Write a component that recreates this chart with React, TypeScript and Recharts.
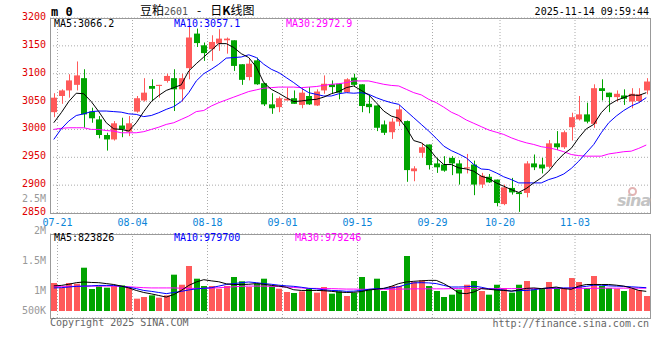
import React from 'react';
import { ComposedChart, Bar, Line, XAxis, YAxis, CartesianGrid, ReferenceLine } from 'recharts';

const dates = [
  '07-18', '07-21', '07-22', '07-23', '07-24', '07-25', '07-28', '07-29', '07-30', '07-31',
  '08-01', '08-04', '08-05', '08-06', '08-07', '08-08', '08-11', '08-12', '08-13', '08-14',
  '08-15', '08-18', '08-19', '08-20', '08-21', '08-22', '08-25', '08-26', '08-27', '08-28',
  '08-29', '09-01', '09-02', '09-03', '09-04', '09-05', '09-08', '09-09', '09-10', '09-11',
  '09-12', '09-15', '09-16', '09-17', '09-18', '09-19', '09-22', '09-23', '09-24', '09-25',
  '09-26', '09-29', '09-30', '10-09', '10-10', '10-13', '10-14', '10-15', '10-16', '10-17',
  '10-20', '10-21', '10-22', '10-23', '10-24', '10-27', '10-28', '10-29', '10-30', '10-31',
  '11-03', '11-04', '11-05', '11-06', '11-07', '11-10', '11-11', '11-12', '11-13', '11-14',
];

const opens = [
  3031, 3060, 3070, 3080, 3092, 3032, 3018, 2990, 2982, 3007,
  2996, 3032, 3052, 3078, 3078, 3087, 3092, 3072, 3110, 3172,
  3151, 3144, 3154, 3160, 3160, 3117, 3094, 3124, 3083, 3045,
  3040, 3052, 3056, 3044, 3060, 3043, 3070, 3081, 3082, 3067,
  3093, 3081, 3046, 3043, 3009, 2995, 3014, 3015, 2925, 2958,
  2973, 2939, 2937, 2949, 2939, 2930, 2937, 2901, 2915, 2910,
  2866, 2895, 2887, 2886, 2939, 2937, 2933, 2975, 2968, 3004,
  3018, 3027, 3010, 3074, 3066, 3058, 3061, 3050, 3051, 3070,
];
const highs = [
  3065, 3072, 3099, 3122, 3108, 3039, 3024, 2994, 3015, 3021,
  3024, 3060, 3092, 3090, 3080, 3100, 3108, 3100, 3184, 3181,
  3156, 3169, 3180, 3165, 3160, 3117, 3126, 3129, 3084, 3065,
  3059, 3075, 3070, 3074, 3076, 3072, 3097, 3088, 3082, 3092,
  3100, 3081, 3060, 3043, 3016, 3020, 3044, 3016, 2934, 2976,
  2973, 2949, 2952, 2952, 2945, 2956, 2944, 2922, 2920, 2910,
  2901, 2913, 2887, 2943, 2955, 2949, 2981, 2997, 2998, 3030,
  3060, 3048, 3081, 3090, 3066, 3070, 3072, 3074, 3074, 3092,
];
const lows = [
  3022, 3046, 3057, 3070, 3003, 3012, 2984, 2962, 2980, 2986,
  2988, 3030, 3050, 3052, 3057, 3084, 3033, 3050, 3090, 3148,
  3123, 3123, 3141, 3136, 3105, 3080, 3088, 3080, 3042, 3028,
  3031, 3052, 3046, 3038, 3044, 3042, 3064, 3064, 3054, 3066,
  3078, 3031, 3029, 2997, 2990, 2983, 3006, 2906, 2907, 2949,
  2928, 2922, 2924, 2918, 2901, 2921, 2882, 2895, 2904, 2862,
  2864, 2883, 2852, 2878, 2927, 2921, 2930, 2963, 2965, 2980,
  3016, 3011, 3003, 3052, 3031, 3050, 3044, 3038, 3048, 3063,
];
const closes = [
  3057, 3070, 3088, 3097, 3027, 3020, 2990, 2982, 3011, 3000,
  3011, 3056, 3066, 3073, 3080, 3096, 3072, 3092, 3165, 3155,
  3137, 3157, 3163, 3163, 3114, 3089, 3118, 3081, 3045, 3038,
  3056, 3055, 3046, 3066, 3045, 3068, 3082, 3076, 3066, 3090,
  3080, 3042, 3040, 3003, 2994, 3014, 3036, 2927, 2930, 2968,
  2936, 2932, 2926, 2939, 2921, 2932, 2901, 2917, 2905, 2868,
  2896, 2887, 2884, 2939, 2932, 2930, 2975, 2968, 2995, 3022,
  3027, 3014, 3074, 3069, 3058, 3064, 3055, 3064, 3063, 3086,
];

const ma5 = [
  3012, 3030, 3050, 3065, 3064, 3050, 3032, 3012, 3001, 3000,
  2997, 3012, 3032, 3050, 3061, 3070, 3075, 3080, 3105, 3118,
  3130, 3142, 3154, 3154, 3147, 3136, 3129, 3112, 3084, 3072,
  3065, 3057, 3050, 3051, 3053, 3054, 3058, 3064, 3068, 3075,
  3078, 3070, 3062, 3048, 3033, 3024, 3020, 3003, 2980, 2976,
  2966, 2949, 2937, 2937, 2931, 2929, 2925, 2916, 2912, 2904,
  2898, 2892, 2887, 2894, 2904, 2913, 2925, 2942, 2956, 2966,
  2985, 3001, 3009, 3030, 3044, 3052, 3057, 3062, 3061, 3066,
];
const ma10 = [
  2982, 3001, 3015, 3025, 3028, 3032, 3033, 3033, 3032, 3031,
  3028, 3027, 3023, 3025, 3030, 3036, 3041, 3050, 3066, 3087,
  3100, 3108, 3117, 3128, 3129, 3130, 3134, 3129, 3117, 3108,
  3102, 3093, 3084, 3074, 3066, 3063, 3060, 3060, 3064, 3066,
  3065, 3066, 3063, 3057, 3052, 3048, 3045, 3033, 3021, 3009,
  2997, 2984, 2970, 2962, 2956, 2949, 2937, 2929, 2928, 2922,
  2915, 2910, 2904, 2904, 2904, 2904, 2910, 2914, 2920, 2930,
  2943, 2958, 2973, 2994, 3012, 3024, 3034, 3042, 3048, 3057,
];
const ma30 = [
  3000, 3002, 3003, 3003, 3003, 3000, 3000, 2998, 2997, 2994,
  2994, 2994, 2996, 3000, 3004, 3009, 3012, 3018, 3024, 3032,
  3034, 3042, 3048, 3053, 3058, 3063, 3068, 3071, 3074, 3075,
  3076, 3076, 3076, 3075, 3076, 3077, 3079, 3081, 3082, 3084,
  3087, 3087, 3087, 3084, 3081, 3079, 3078, 3072, 3066, 3062,
  3054, 3048, 3040, 3031, 3025, 3017, 3011, 3005, 2999, 2995,
  2991, 2985, 2980, 2976, 2973, 2969, 2967, 2964, 2960, 2955,
  2953, 2952, 2952, 2952, 2956, 2958, 2960, 2961, 2966, 2972,
];

// volume, in thousands of lots
const volumes = [
  1225, 1020, 1225, 1195, 1895, 963, 1080, 1020, 1094, 1120,
  1020, 540, 613, 686, 584, 686, 1590, 1150, 1970, 1414,
  1094, 1094, 977, 1094, 1488, 1300, 1050, 1195, 1414, 1080,
  977, 832, 788, 861, 977, 803, 1050, 759, 861, 656,
  803, 1488, 948, 1414, 875, 1094, 1094, 2407, 1270, 1342,
  1094, 875, 613, 715, 934, 1150, 1313, 875, 715, 1150,
  1007, 803, 1150, 1313, 948, 977, 1270, 1007, 1007, 1444,
  1270, 1007, 1532, 1094, 1007, 977, 875, 977, 905, 656,
];
// volume moving averages, in millions
const volMa5 = [
  1.10, 1.12, 1.17, 1.24, 1.27, 1.25, 1.24, 1.20, 1.16, 1.09,
  1.01, 0.90, 0.81, 0.75, 0.68, 0.61, 0.72, 0.90, 1.12, 1.27,
  1.37, 1.32, 1.28, 1.19, 1.16, 1.16, 1.17, 1.20, 1.17, 1.12,
  1.09, 1.04, 0.93, 0.90, 0.90, 0.90, 0.89, 0.86, 0.83, 0.81,
  0.82, 0.85, 0.92, 0.95, 0.99, 1.08, 1.20, 1.27, 1.30, 1.32,
  1.34, 1.34, 1.20, 1.01, 0.79, 0.76, 0.83, 0.98, 0.95, 0.92,
  0.90, 0.87, 0.92, 0.99, 1.01, 0.98, 1.01, 1.05, 0.98, 0.95,
  1.09, 1.16, 1.16, 1.16, 1.16, 1.13, 1.09, 1.01, 0.90, 0.86,
];
const volMa10 = [
  1.01, 1.02, 1.05, 1.08, 1.09, 1.10, 1.12, 1.12, 1.12, 1.08,
  1.04, 0.98, 0.90, 0.86, 0.81, 0.76, 0.81, 0.86, 0.92, 0.97,
  0.99, 1.02, 1.09, 1.16, 1.20, 1.24, 1.27, 1.24, 1.20, 1.17,
  1.13, 1.10, 1.08, 1.04, 0.99, 0.97, 0.93, 0.90, 0.89, 0.86,
  0.87, 0.90, 0.95, 0.98, 0.99, 1.01, 1.06, 1.16, 1.23, 1.24,
  1.23, 1.20, 1.12, 1.05, 1.05, 1.06, 1.09, 1.04, 0.97, 0.95,
  0.92, 0.87, 0.89, 0.90, 0.93, 0.98, 1.01, 1.01, 1.01, 1.01,
  1.04, 1.08, 1.13, 1.13, 1.10, 1.09, 1.08, 1.06, 1.04, 1.02,
];
const volMa30 = [
  1.08, 1.08, 1.08, 1.08, 1.08, 1.09, 1.09, 1.09, 1.09, 1.08,
  1.06, 1.04, 1.02, 1.01, 1.01, 1.01, 1.01, 1.00, 0.99, 0.99,
  0.99, 1.00, 1.02, 1.04, 1.06, 1.08, 1.09, 1.09, 1.09, 1.08,
  1.07, 1.05, 1.03, 1.01, 0.99, 0.99, 0.98, 0.98, 0.97, 0.96,
  0.96, 0.95, 0.95, 0.95, 0.95, 0.95, 0.96, 0.96, 0.97, 0.97,
  0.97, 0.97, 0.97, 0.98, 0.98, 0.98, 0.98, 0.98, 0.98, 0.98,
  0.98, 0.98, 0.98, 0.98, 0.98, 0.98, 0.98, 0.99, 0.99, 0.99,
  0.99, 0.99, 0.99, 1.00, 1.00, 1.00, 1.00, 1.00, 1.00, 1.00,
];

const dateTicks = ['07-21', '08-04', '08-18', '09-01', '09-15', '09-29', '10-20', '11-03'];
const priceTicks = [2850, 2900, 2950, 3000, 3050, 3100, 3150, 3200];
const volGridLevels = [1575000, 2450000];

const rows = dates.map((date, i) => ({
  date,
  open: opens[i],
  high: highs[i],
  low: lows[i],
  close: closes[i],
  range: [lows[i], highs[i]],
  ma5: ma5[i],
  ma10: ma10[i],
  ma30: ma30[i],
  vol: volumes[i] * 1000,
  vma5: volMa5[i] * 1e6,
  vma10: volMa10[i] * 1e6,
  vma30: volMa30[i] * 1e6,
}));

const RED = '#ff5a5a';
const GREEN = '#00a400';
const MONO = '"DejaVu Sans Mono", monospace';
const BAND = 600 / dates.length;

const Candle = (props: any) => {
  const { x, y, width, height, payload } = props;
  const { open, close, high, low } = payload;
  const color = close >= open ? RED : GREEN;
  const top = Math.min(y, y + height);
  const h = Math.abs(height);
  const k = high > low ? h / (high - low) : 0;
  const bTop = top + (high - Math.max(open, close)) * k;
  const bBot = top + (high - Math.min(open, close)) * k;
  const rx = Math.round(x);
  const cx = rx + Math.floor(width / 2) + 0.5;
  return (
    <g>
      <line x1={cx} x2={cx} y1={top} y2={top + h} stroke={color} strokeWidth={1} />
      <rect x={rx} y={bTop} width={width} height={Math.max(1, bBot - bTop)} fill={color} />
    </g>
  );
};

const VolBar = (props: any) => {
  const { x, y, width, height, payload } = props;
  const color = payload.close >= payload.open ? RED : GREEN;
  return <rect x={Math.round(x)} y={Math.min(y, y + height)} width={width} height={Math.abs(height)} fill={color} />;
};

const DateTick = (props: any) => (
  <text x={props.x - BAND / 2} y={props.y + 9} textAnchor="middle" dominantBaseline="central"
    fill="#0a84d8" fontSize={10} fontFamily={MONO}>{props.payload.value}</text>
);

const PriceTick = (props: any) => (
  <text x={46} y={props.y - 1.5} textAnchor="end" dominantBaseline="central"
    fill="#e00000" fontSize={10} fontFamily={MONO}>{props.payload.value}</text>
);

const Label = ({ x, y, color = '#000', end = false, size = 10, bold = false, children }: any) => (
  <div style={{
    position: 'absolute', top: y - 7, height: 14, lineHeight: '14px',
    left: end ? undefined : x, right: end ? 660 - x : undefined,
    fontSize: size, color, fontFamily: MONO, fontWeight: bold ? 'bold' : 'normal', whiteSpace: 'nowrap',
  }}>{children}</div>
);

const gridStroke = '#aaa';
const gridDash = '1 2';

export default function App() {
  return (
    <div style={{ position: 'absolute', left: 0, top: 0, width: 660, height: 360, background: '#fff', overflow: 'hidden' }}>
      <div style={{ position: 'absolute', left: 0, top: 0 }}>
        <ComposedChart width={660} height={230} data={rows} margin={{ top: 18, right: 10, bottom: 0, left: 0 }}>
          <CartesianGrid vertical={false} stroke={gridStroke} strokeDasharray={gridDash} />
          <XAxis dataKey="date" ticks={dateTicks} interval={0} height={17} tickSize={0} tickMargin={0}
            axisLine={false} tickLine={false} tick={DateTick} />
          <YAxis domain={[2850, 3200]} ticks={priceTicks} interval={0} width={50} tickSize={0} tickMargin={0}
            axisLine={false} tickLine={false} tick={PriceTick} allowDataOverflow />
          {dateTicks.map(d => (
            <ReferenceLine key={d} x={d} position="start" stroke={gridStroke} strokeDasharray={gridDash} />
          ))}
          <Bar dataKey="range" barSize={6} shape={Candle} isAnimationActive={false} />
          <Line dataKey="ma30" stroke="#ff00ff" strokeWidth={1} dot={false} activeDot={false} isAnimationActive={false} />
          <Line dataKey="ma10" stroke="#0000ff" strokeWidth={1} dot={false} activeDot={false} isAnimationActive={false} />
          <Line dataKey="ma5" stroke="#000" strokeWidth={1} dot={false} activeDot={false} isAnimationActive={false} />
        </ComposedChart>
      </div>

      <div style={{ position: 'absolute', left: 0, top: 230 }}>
        <ComposedChart width={660} height={92} data={rows} margin={{ top: 4, right: 10, bottom: 4, left: 0 }}>
          <CartesianGrid vertical={false} stroke={gridStroke} strokeDasharray={gridDash} />
          <XAxis dataKey="date" hide />
          <YAxis domain={[-306000, 3370000]} ticks={volGridLevels} width={50} tick={false}
            axisLine={false} tickLine={false} allowDataOverflow />
          {dateTicks.map(d => (
            <ReferenceLine key={d} x={d} position="start" stroke={gridStroke} strokeDasharray={gridDash} />
          ))}
          <Bar dataKey="vol" barSize={6} shape={VolBar} isAnimationActive={false} />
          <Line dataKey="vma30" stroke="#ff00ff" strokeWidth={1} dot={false} activeDot={false} isAnimationActive={false} />
          <Line dataKey="vma10" stroke="#0000ff" strokeWidth={1} dot={false} activeDot={false} isAnimationActive={false} />
          <Line dataKey="vma5" stroke="#000" strokeWidth={1} dot={false} activeDot={false} isAnimationActive={false} />
        </ComposedChart>
      </div>

      {/* panel frames */}
      <div style={{ position: 'absolute', left: 50, top: 18, width: 601, height: 196, boxSizing: 'border-box', border: '1px solid #999' }} />
      <div style={{ position: 'absolute', left: 50, top: 234, width: 601, height: 85, boxSizing: 'border-box', border: '1px solid #999' }} />

      {/* header */}
      <Label x={51} y={12} size={12} bold>m 0</Label>
      <div style={{ position: 'absolute', left: 140, top: 2, height: 16, lineHeight: '16px', fontSize: 12, whiteSpace: 'nowrap', fontFamily: '"Noto Sans CJK SC", sans-serif', color: '#000' }}>
        豆粕<span style={{ fontFamily: MONO, fontSize: 10, color: '#555' }}>2601</span>
        <span style={{ margin: '0 9px' }}>-</span>日<span style={{ fontWeight: 'bold' }}>K</span>线图
      </div>
      <Label x={649} y={12} end>2025-11-14 09:59:44</Label>

      {/* price legends */}
      <Label x={54} y={24}>MA5:3066.2</Label>
      <Label x={174} y={24} color="#0000ff">MA10:3057.1</Label>
      <Label x={286} y={24} color="#ff00ff">MA30:2972.9</Label>

      {/* volume legends */}
      <Label x={54} y={238}>MA5:823826</Label>
      <Label x={174} y={238} color="#0000ff">MA10:979700</Label>
      <Label x={295} y={238} color="#ff00ff">MA30:979246</Label>

      {/* volume axis labels */}
      <Label x={46} y={199} end color="#999">2.5M</Label>
      <Label x={46} y={231} end color="#999">2M</Label>
      <Label x={46} y={261} end color="#999">1.5M</Label>
      <Label x={46} y={291} end color="#999">1M</Label>
      <Label x={46} y={311} end color="#999">500K</Label>

      {/* watermark */}
      <div style={{ position: 'absolute', left: 628, top: 187, width: 9, height: 9, borderRadius: '50%', border: '2px solid #e3b3b3', boxSizing: 'border-box' }} />
      <div style={{ position: 'absolute', left: 617, top: 193, fontSize: 16, fontStyle: 'italic', fontWeight: 'bold', color: '#c4c4c4', fontFamily: '"DejaVu Sans", sans-serif', lineHeight: '16px', letterSpacing: -1 }}>sina</div>

      {/* footer */}
      <Label x={50} y={323} color="#666">Copyright 2025 SINA.COM</Label>
      <Label x={649} y={324} end color="#666">http://finance.sina.com.cn</Label>
    </div>
  );
}
